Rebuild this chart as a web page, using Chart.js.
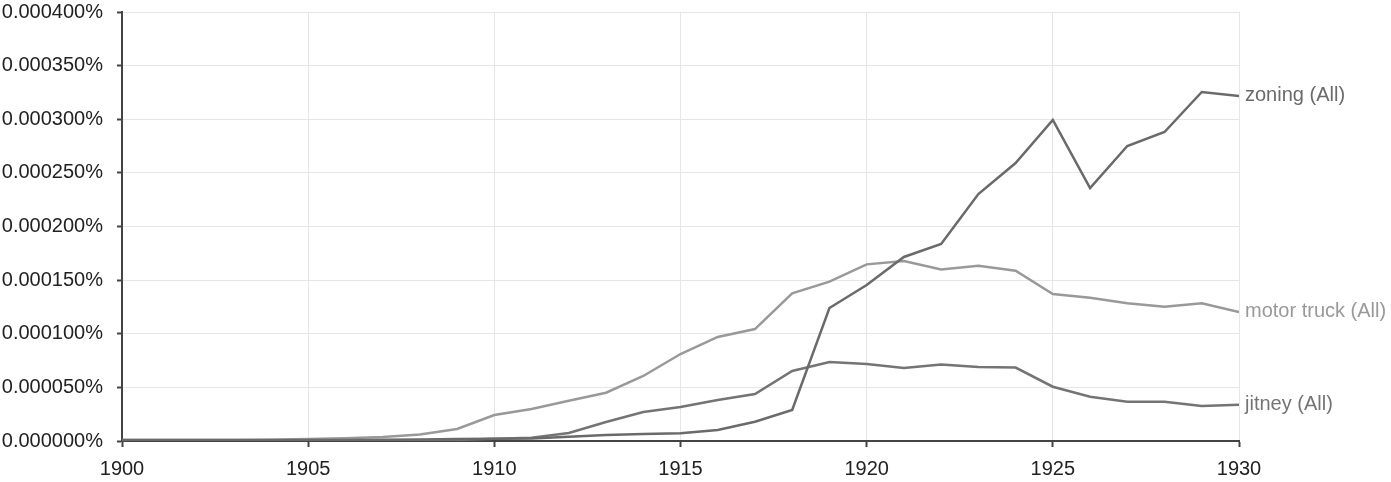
<!DOCTYPE html>
<html>
<head>
<meta charset="utf-8">
<script src="https://cdn.jsdelivr.net/npm/chart.js@4/dist/chart.umd.min.js"></script>
<style>
html,body{margin:0;padding:0;background:#fff;}
#wrap{width:1391px;height:482px;position:relative;}
</style>
</head>
<body>
<div id="wrap"><canvas id="c" width="1391" height="482"></canvas></div>
<script>
const years = [];
for (let y = 1900; y <= 1930; y++) years.push(y);

const zoning = [0.000001,0.000001,0.000001,0.000001,0.000001,0.000001,0.000001,0.0000012,0.0000015,0.0000018,
  0.000002,0.0000023,0.000004,0.0000056,0.0000065,0.0000072,0.0000103,0.000018,0.0000289,0.000124,
  0.0001455,0.0001716,0.0001837,0.0002303,0.0002592,0.0002993,0.0002359,0.0002751,0.0002881,0.0003254,0.0003217];

const motorTruck = [0.000001,0.000001,0.000001,0.000001,0.0000012,0.0000018,0.0000025,0.0000037,0.000006,0.0000112,
  0.0000242,0.0000298,0.0000376,0.000045,0.0000606,0.0000811,0.000097,0.0001044,0.0001377,0.0001486,
  0.0001647,0.0001678,0.00016,0.0001635,0.0001588,0.0001371,0.0001336,0.0001284,0.0001252,0.0001284,0.0001203];

const jitney = [0.0000005,0.0000005,0.0000005,0.0000005,0.0000005,0.0000005,0.0000005,0.0000005,0.0000008,0.000001,
  0.000002,0.000003,0.0000075,0.0000177,0.000027,0.0000317,0.0000382,0.0000438,0.0000653,0.0000737,
  0.0000718,0.0000681,0.0000713,0.000069,0.0000685,0.0000506,0.0000413,0.0000366,0.0000366,0.0000326,0.0000338];

const seriesNames = ['zoning (All)', 'motor truck (All)', 'jitney (All)'];
const seriesColors = ['#6a6a6a', '#999999', '#747474'];
const seriesData = [zoning, motorTruck, jitney];

const FONT = '"Liberation Sans", Arial, Helvetica, sans-serif';

const endLabels = {
  id: 'endLabels',
  afterDatasetsDraw(chart) {
    const ctx = chart.ctx;
    ctx.save();
    ctx.font = '20px ' + FONT;
    ctx.textBaseline = 'middle';
    ctx.textAlign = 'left';
    chart.data.datasets.forEach((ds, i) => {
      const meta = chart.getDatasetMeta(i);
      const pt = meta.data[meta.data.length - 1];
      ctx.fillStyle = ds.borderColor;
      ctx.fillText(ds.label, pt.x + 6, pt.y);
    });
    ctx.restore();
  }
};

new Chart(document.getElementById('c'), {
  type: 'line',
  data: {
    datasets: seriesData.map((arr, i) => ({
      label: seriesNames[i],
      data: arr.map((v, k) => ({x: years[k], y: v})),
      borderColor: seriesColors[i],
      backgroundColor: seriesColors[i],
      borderWidth: 2.5,
      pointRadius: 0,
      tension: 0,
      fill: false
    }))
  },
  options: {
    responsive: false,
    animation: false,
    layout: {padding: {top: 0, right: 152, left: 0, bottom: 0}},
    plugins: {legend: {display: false}, tooltip: {enabled: false}},
    scales: {
      x: {
        type: 'linear',
        min: 1900, max: 1930,
        afterFit(s) { s.height = 41; },
        ticks: {stepSize: 5, color: '#222', font: {size: 20, family: FONT}, padding: 10,
          callback: v => String(v), maxRotation: 0},
        grid: {color: '#e6e6e6', lineWidth: 1, tickColor: '#444', tickLength: 6, tickWidth: 2},
        border: {color: '#444', width: 2}
      },
      y: {
        min: 0, max: 0.0004,
        afterFit(s) { s.width = 122; s.paddingTop = 12; },
        ticks: {stepSize: 0.00005, color: '#222', font: {size: 20, family: FONT}, padding: 14,
          callback: v => v.toFixed(6) + '%'},
        grid: {color: '#e6e6e6', lineWidth: 1, tickColor: '#444', tickLength: 5, tickWidth: 2},
        border: {color: '#444', width: 2}
      }
    }
  },
  plugins: [endLabels]
});
</script>
</body>
</html>
